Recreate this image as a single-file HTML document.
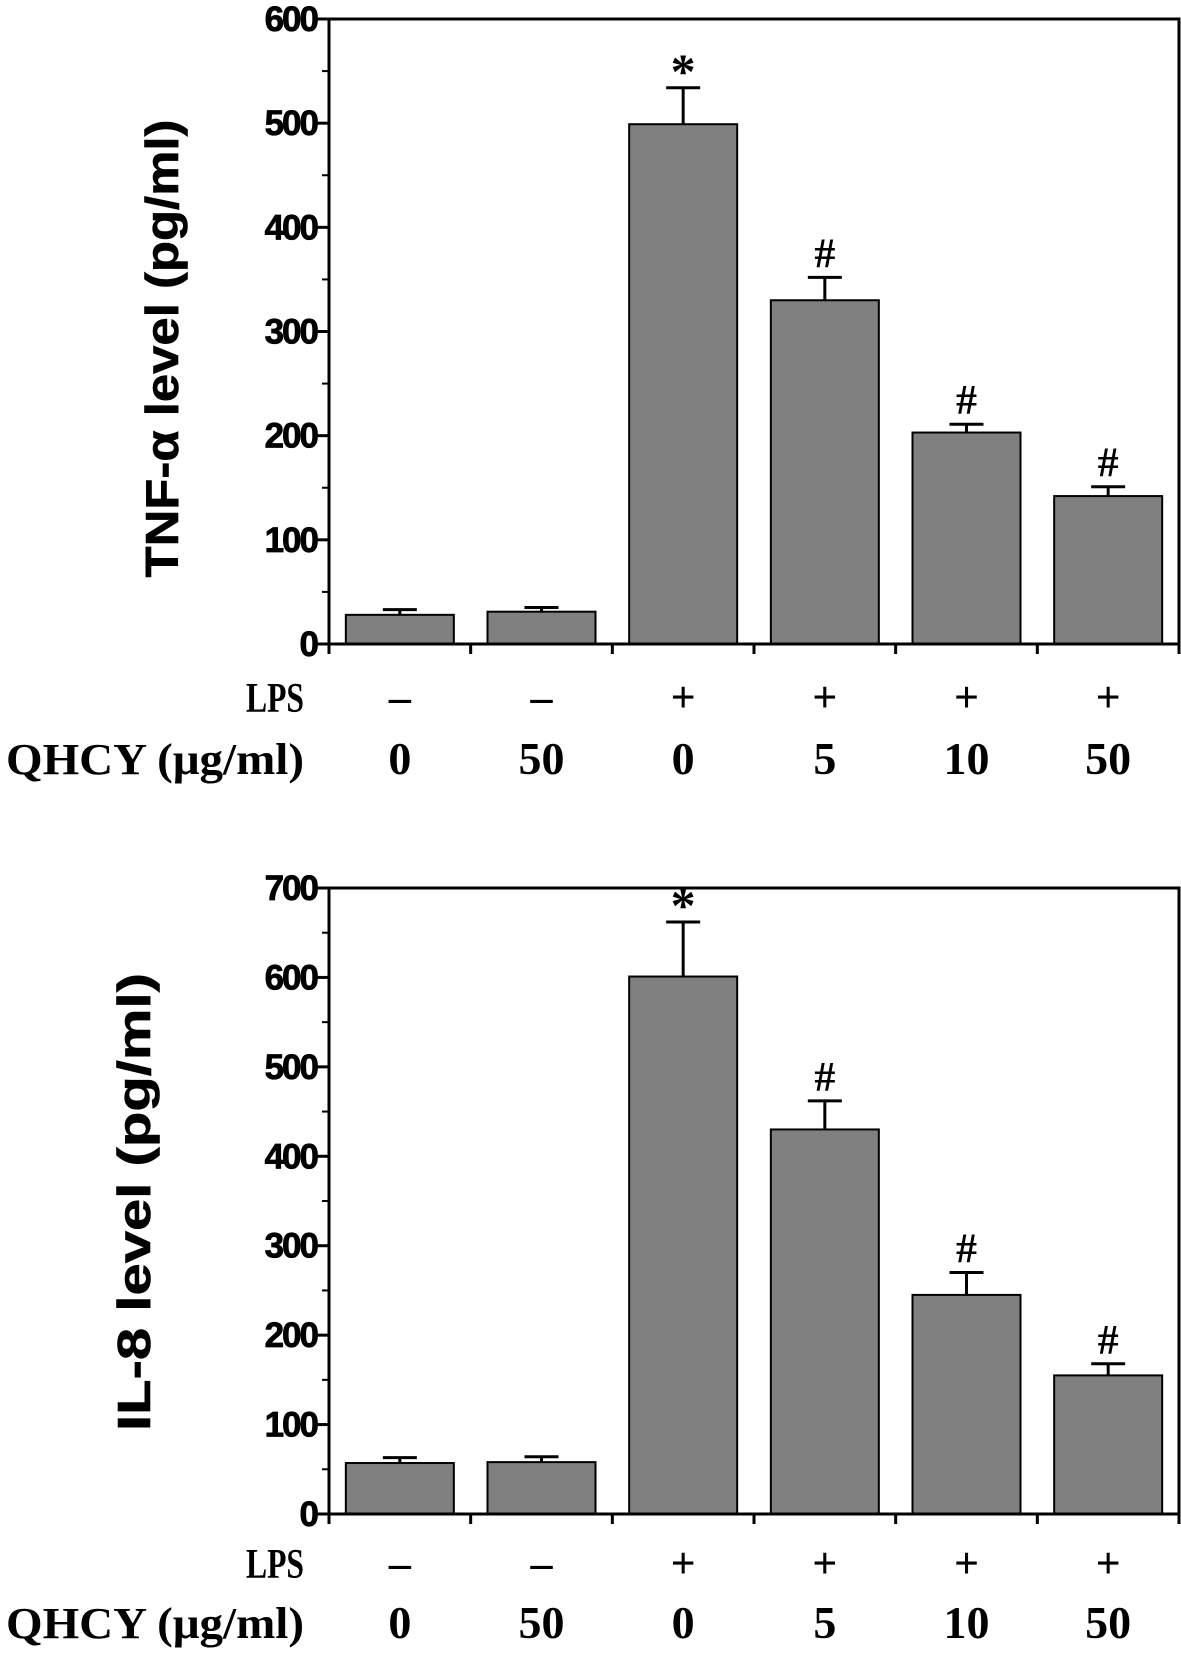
<!DOCTYPE html>
<html><head><meta charset="utf-8"><style>
html,body{margin:0;padding:0;background:#fff;}
svg{display:block;}
</style></head><body>
<svg id="fig" width="1181" height="1654" viewBox="0 0 1181 1654" xmlns="http://www.w3.org/2000/svg"></svg>
<script>
const categories = ["1","2","3","4","5","6"];
const lpsLabels = ["\u2013","\u2013","+","+","+","+"];
const qhcyLabels = ["0","50","0","5","10","50"];
const tnfValues = [28, 31, 499, 330, 203, 142];
const tnfErrors = [5, 4, 35, 22, 8, 9];
const tnfMarks = ["", "", "*", "#", "#", "#"];
const tnfTicks = [0, 100, 200, 300, 400, 500, 600];
const il8Values = [57, 58, 601, 430, 245, 155];
const il8Errors = [6, 6, 61, 32, 25, 13];
const il8Marks = ["", "", "*", "#", "#", "#"];
const il8Ticks = [0, 100, 200, 300, 400, 500, 600, 700];

const NS = "http://www.w3.org/2000/svg";
const svg = document.getElementById("fig");
function mk(tag, attrs, parent, text) {
  const e = document.createElementNS(NS, tag);
  for (const k in attrs) e.setAttribute(k, attrs[k]);
  if (text !== undefined) e.textContent = text;
  (parent || svg).appendChild(e);
  return e;
}

function drawPanel(p) {
  const g = mk("g", {});
  
  
  const L = 329, R = 1179, T = p.top, B = p.bottom;
  const maxV = p.ticks[p.ticks.length - 1];
  const y = v => B - (v / maxV) * (B - T);
  const gw = (R - L) / categories.length;
  const xc = i => L + gw * (i + 0.5);
  const bw = 108;
  categories.forEach((c, i) => {
    const v = p.values[i], e = p.errors[i];
    const bar = mk("rect", {x: xc(i) - bw / 2, y: y(v), width: bw, height: B - y(v), fill: "#808080", stroke: "#000", "stroke-width": 2}, g);
    
    
    const eb = mk("path", {d: `M${xc(i)},${y(v)}V${y(v + e)}M${xc(i) - 17},${y(v + e)}H${xc(i) + 17}`, stroke: "#000", "stroke-width": 3, fill: "none"}, g);
    
    
    if (p.marks[i]) {
      const star = p.marks[i] === "*";
      const m = mk("text", {x: xc(i), y: y(v + e) - (star ? 0 : 10), "text-anchor": "middle", "font-family": "Liberation Serif, serif", "font-weight": "bold", "font-size": star ? 50 : 42}, g, p.marks[i]);
      
      
    }
  });
  const fr = mk("rect", {x: L, y: T, width: R - L, height: B - T, fill: "none", stroke: "#000", "stroke-width": 3}, g);
  
  
  p.ticks.forEach((t, k) => {
    mk("line", {x1: L - 12, x2: L, y1: y(t), y2: y(t), stroke: "#000", "stroke-width": 3}, g);
    if (k < p.ticks.length - 1) {
      const mid = (t + p.ticks[k + 1]) / 2;
      mk("line", {x1: L - 7, x2: L, y1: y(mid), y2: y(mid), stroke: "#000", "stroke-width": 2}, g);
    }
    const tl = mk("text", {x: L - 12, y: y(t) + 12, "text-anchor": "end", "font-family": "Liberation Sans, sans-serif", "font-weight": "bold", "font-size": 35, "letter-spacing": -2, stroke: "#000", "stroke-width": 0.8}, g, String(t));
    
    
  });
  for (let i = 0; i <= categories.length; i++) {
    mk("line", {x1: L + gw * i, x2: L + gw * i, y1: B, y2: B + 10, stroke: "#000", "stroke-width": 3}, g);
  }
  const yt = mk("text", {x: 0, y: 0, transform: `translate(${p.titleX},${(T + B) / 2 + p.titleDy}) rotate(-90)`, "text-anchor": "middle", "font-family": "Liberation Sans, sans-serif", "font-weight": "bold", "font-size": 46, textLength: 458, lengthAdjust: "spacingAndGlyphs", stroke: "#000", "stroke-width": 0.6}, g, p.title);
  
  
  const l1 = mk("text", {x: 304, y: p.lpsY, "text-anchor": "end", "font-family": "Liberation Serif, serif", "font-weight": "bold", "font-size": 42, textLength: 58, lengthAdjust: "spacingAndGlyphs"}, g, "LPS");
  
  
  const l2 = mk("text", {x: 304, y: p.qY, "text-anchor": "end", "font-family": "Liberation Serif, serif", "font-weight": "bold", "font-size": 44, textLength: 298, lengthAdjust: "spacingAndGlyphs"}, g, "QHCY (\u03bcg/ml)");
  
  
  categories.forEach((c, i) => {
    const a = mk("text", {x: xc(i), y: p.lpsY, "text-anchor": "middle", "font-family": "Liberation Serif, serif", "font-weight": "bold", "font-size": 44}, g, lpsLabels[i]);
    
    
    const b = mk("text", {x: xc(i), y: p.qY, "text-anchor": "middle", "font-family": "Liberation Serif, serif", "font-weight": "bold", "font-size": 46}, g, qhcyLabels[i]);
    
    
  });
}

drawPanel({name: "tnf-alpha-panel", top: 19, bottom: 644, ticks: tnfTicks, values: tnfValues, errors: tnfErrors, marks: tnfMarks, title: "TNF-\u03b1 level (pg/ml)", titleX: 178, titleDy: 17, lpsY: 712, qY: 774});
drawPanel({name: "il8-panel", top: 888, bottom: 1514, ticks: il8Ticks, values: il8Values, errors: il8Errors, marks: il8Marks, title: "IL-8 level  (pg/ml)", titleX: 150, titleDy: 1, lpsY: 1578, qY: 1638});
</script>
</body></html>
